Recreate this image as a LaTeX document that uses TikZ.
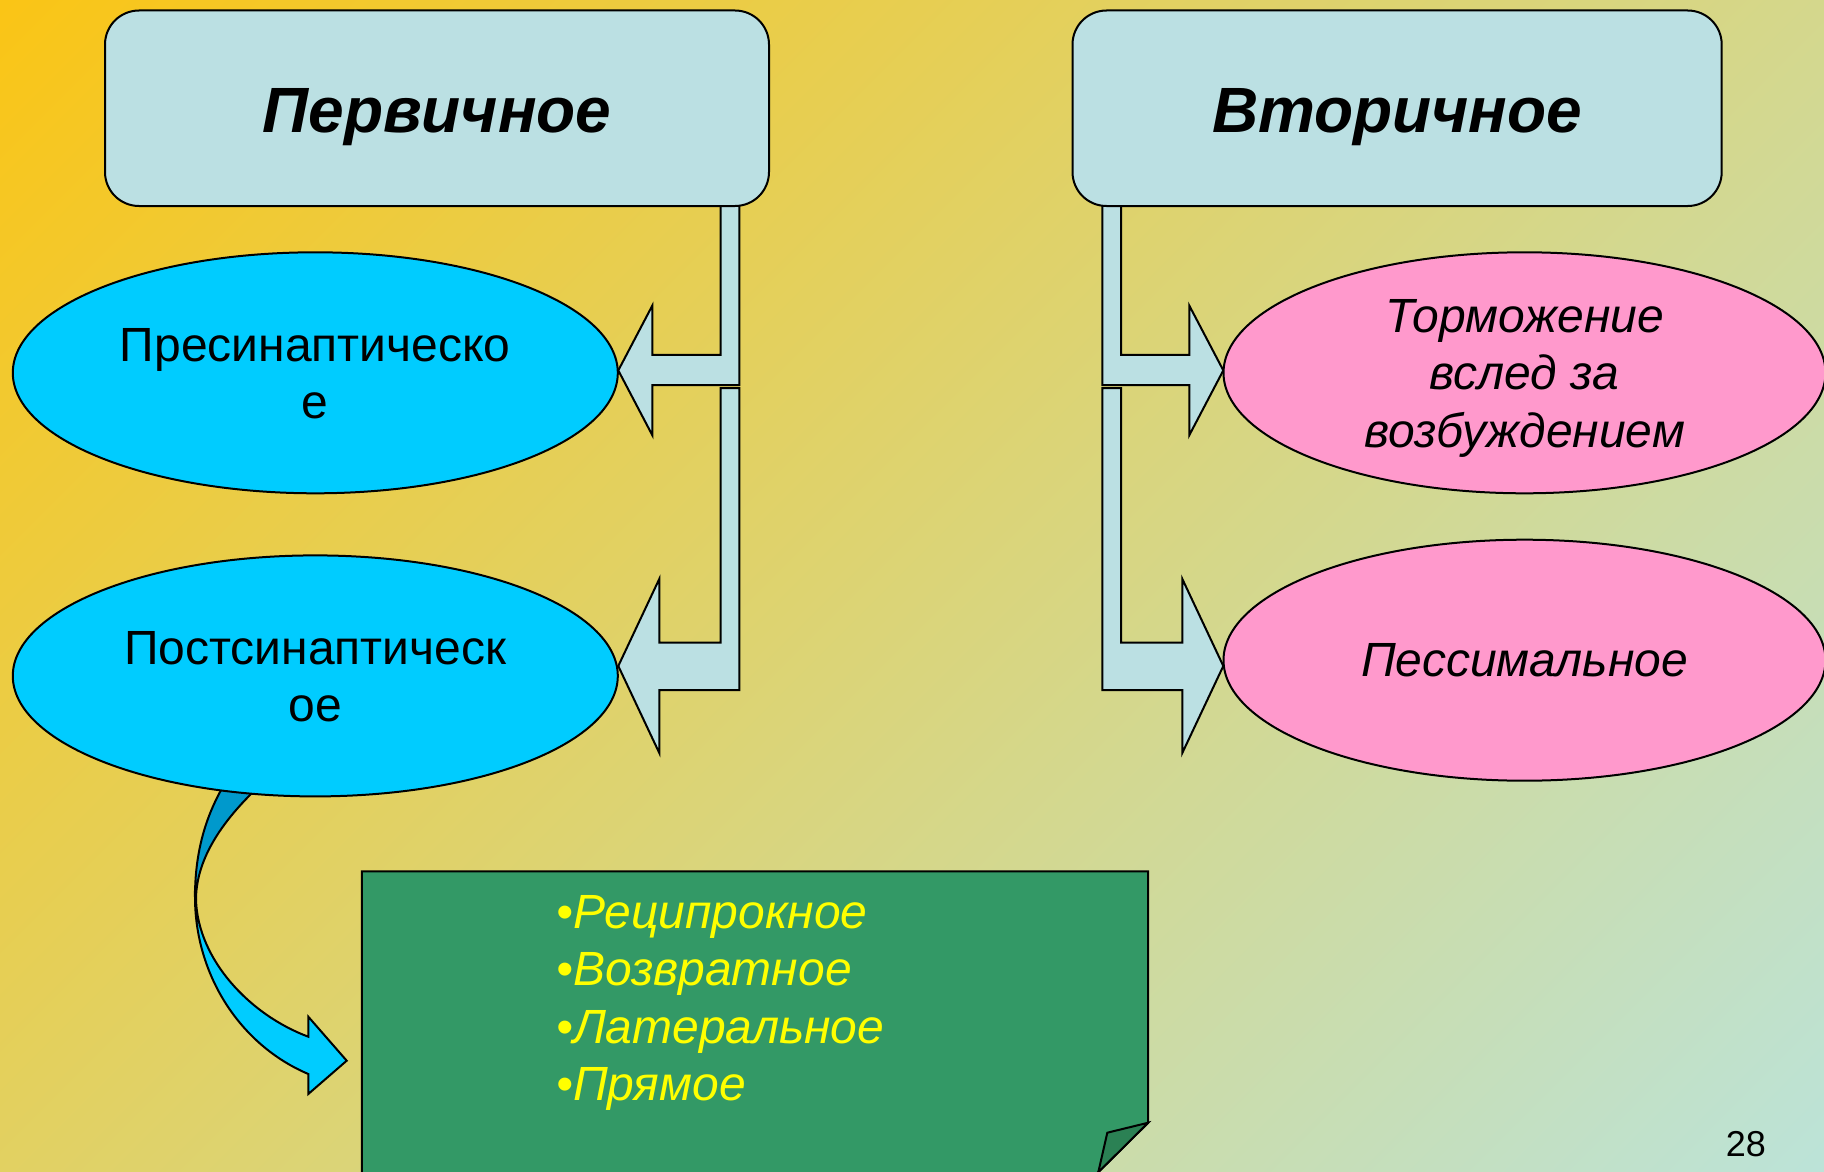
\documentclass[tikz,border=0pt]{standalone}
\usepackage{fontspec}
\setmainfont{Liberation Sans}
\usetikzlibrary{shapes.geometric}
\definecolor{bgA}{HTML}{FAC516}
\definecolor{bgB}{HTML}{BCE3D8}
\definecolor{boxfill}{HTML}{BBE0E3}
\definecolor{cyanfill}{HTML}{00CCFF}
\definecolor{cyandark}{HTML}{0099CC}
\definecolor{pinkfill}{HTML}{FF99CC}
\definecolor{greenfill}{HTML}{339966}
\definecolor{flapfill}{HTML}{2B8154}
\definecolor{listyellow}{HTML}{FFFF00}
\pgfdeclarehorizontalshading{bgshade}{100bp}{color(0bp)=(bgA); color(20.97bp)=(bgA); color(79.03bp)=(bgB); color(100bp)=(bgB)}
\begin{document}
\begin{tikzpicture}[x=1pt,y=-1pt,
  outl/.style={draw=black, line width=2pt, line join=miter},
  blockarrow/.style={outl, fill=boxfill},
  titlebox/.style={outl, fill=boxfill, rounded corners=34pt, inner sep=0pt,
    minimum height=195.5pt, text height=47.5pt, text depth=0pt,
    font=\fontsize{64}{77}\selectfont\bfseries\itshape},
  ellL/.style={ellipse, outl, fill=cyanfill, minimum width=605pt, minimum height=241pt,
    inner sep=0pt, align=center, font=\fontsize{48}{57}\selectfont},
  ellR/.style={ellipse, outl, fill=pinkfill, minimum width=602pt, minimum height=241pt,
    inner sep=0pt, align=center, font=\fontsize{48}{57.3}\selectfont\itshape},
  listtext/.style={inner sep=0pt, anchor=north west, align=left, text=listyellow,
    font=\fontsize{48}{57.4}\selectfont\itshape},
  pagenum/.style={inner sep=0pt, anchor=base, font=\fontsize{36}{43}\selectfont}
]
\useasboundingbox (0,0) rectangle (1824,1172);
\begin{scope}
\clip (0,0) rectangle (1824,1172);
% background
\shade[shading=bgshade, shading angle=-45] (0,-326) rectangle (1824,1498);

% curved arrow (behind the ellipse)
\draw[outl, fill=cyandark] (226,776) -- (220.7,790.7) .. controls (202,825) and (195,860) .. (195,897)
  -- (196,900) .. controls (196,865) and (215,830) .. (251,794) -- (262,780) -- cycle;
\draw[outl, fill=cyanfill] (195,897) .. controls (195,975) and (240,1045) .. (308.3,1074)
  -- (308.3,1094) -- (346.7,1060.7) -- (308.3,1016.7) -- (308.3,1036.7)
  .. controls (250,1015) and (198,960) .. (196,900) -- cycle;

% bent arrows, left side
\draw[blockarrow] (720.7,195) -- (720.7,354.8) -- (652.3,354.8) -- (652.3,305.6) -- (618.3,370.4)
  -- (652.3,435.2) -- (652.3,385.2) -- (739.3,385.2) -- (739.3,195) -- cycle;
\draw[blockarrow] (720.7,388.1) -- (720.7,642.6) -- (659.3,642.6) -- (659.3,578.9) -- (618.3,666)
  -- (659.3,753) -- (659.3,690) -- (739.3,690) -- (739.3,388.1) -- cycle;
% bent arrows, right side
\draw[blockarrow] (1102.3,195) -- (1102.3,385.2) -- (1189.3,385.2) -- (1189.3,435.2) -- (1223.3,370.4)
  -- (1189.3,305.6) -- (1189.3,354.8) -- (1121,354.8) -- (1121,195) -- cycle;
\draw[blockarrow] (1102.3,388.1) -- (1102.3,690) -- (1182.3,690) -- (1182.3,753) -- (1223.3,666)
  -- (1182.3,578.9) -- (1182.3,642.6) -- (1121,642.6) -- (1121,388.1) -- cycle;

% green note with folded corner
\draw[outl, fill=greenfill] (361.8,871.3) -- (1148.2,871.3) -- (1148.2,1122.7) -- (1095.4,1174.9)
  -- (361.8,1174.9) -- cycle;
\draw[outl, fill=flapfill] (1148.2,1122.7) -- (1107.3,1132.7) -- (1098.3,1172.2) -- cycle;
\node[listtext] (list) at (556,884.3) {\rule{0pt}{44pt}•Реципрокное\\•Возвратное\\•Латеральное\\•Прямое};

% ellipses
\node[ellL] (pre) at (315.3,372.8) {\rule{0pt}{44pt}Пресинаптическо\\е\rule[-10pt]{0pt}{10pt}};
\node[ellL] (post) at (315.3,675.9) {\rule{0pt}{44pt}Постсинаптическ\\ое\rule[-10pt]{0pt}{10pt}};
\node[ellR] (torm) at (1524.5,372.8) {\rule{0pt}{44pt}Торможение\\вслед за\\возбуждением\rule[-10pt]{0pt}{10pt}};
\node[ellR] (pess) at (1524.5,660.2) {\rule{0pt}{44pt}Пессимальное\rule[-12pt]{0pt}{12pt}};

% title boxes
\node[titlebox, minimum width=664pt] (prim) at (437,108.25) {Первичное};
\node[titlebox, minimum width=649.2pt] (sec) at (1397.1,108.25) {Вторичное};

% page number
\node[pagenum] (pnum) at (1745.8,1156.7) {28};
\end{scope}
\end{tikzpicture}
\end{document}
